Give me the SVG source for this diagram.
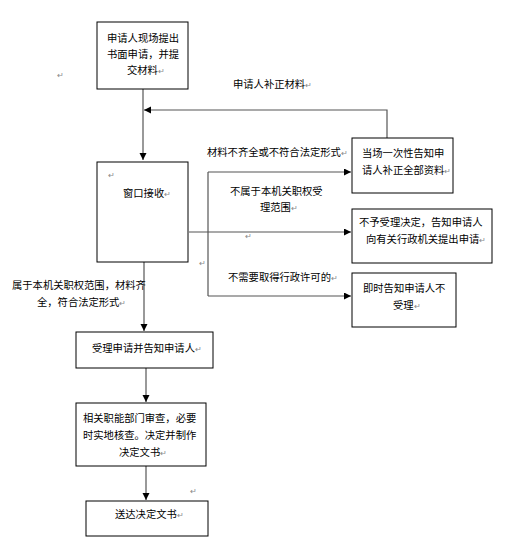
<svg xmlns="http://www.w3.org/2000/svg" width="509" height="555" viewBox="0 0 509 555">
<style>
  .box{fill:#fff;stroke:#000;stroke-width:1}
  .ln{fill:none;stroke:#555;stroke-width:1.2}
  text{font-family:"Noto Sans CJK SC","Noto Sans CJK JP",sans-serif;font-size:10.3px;fill:#000}
  .pm{fill:#888;font-size:8px}
</style>
<defs>
  <marker id="ah" markerUnits="userSpaceOnUse" markerWidth="8" markerHeight="8" refX="7" refY="3.5" orient="auto">
    <path d="M0,0 L7,3.5 L0,7 z" fill="#000"/>
  </marker>
</defs>
<rect width="509" height="555" fill="#fff"/>
<g id="connectors">
  <path class="ln" d="M143,89 V160" marker-end="url(#ah)"/>
  <path class="ln" d="M387,138 V110 H144" marker-end="url(#ah)"/>
  <path class="ln" d="M189,232 H351" marker-end="url(#ah)"/>
  <path class="ln" d="M208,172 V296"/>
  <path class="ln" d="M208,172 H351" marker-end="url(#ah)"/>
  <path class="ln" d="M208,296 H351" marker-end="url(#ah)"/>
  <path class="ln" d="M144,262 V331" marker-end="url(#ah)"/>
  <path class="ln" d="M146,368 V402" marker-end="url(#ah)"/>
  <path class="ln" d="M146,466 V500" marker-end="url(#ah)"/>
</g>
<g id="n1">
  <rect class="box" x="97" y="22" width="91" height="67"/>
  <text x="107" y="42">申请人现场提出</text>
  <text x="107" y="58">书面申请，并提</text>
  <text x="127" y="74">交材料<tspan class="pm">↵</tspan></text>
</g>
<g id="n2">
  <rect class="box" x="97" y="162" width="91" height="100"/>
  <text x="108" y="178" class="pm">↵</text>
  <text x="123" y="197">窗口接收<tspan class="pm">↵</tspan></text>
</g>
<g id="n3">
  <rect class="box" x="352" y="138" width="101" height="55"/>
  <text x="362" y="157">当场一次性告知申</text>
  <text x="362" y="174">请人补正全部资料<tspan class="pm">↵</tspan></text>
</g>
<g id="n4">
  <rect class="box" x="352" y="209" width="140" height="54"/>
  <text x="359" y="226">不予受理决定，告知申请人</text>
  <text x="366" y="243">向有关行政机关提出申请<tspan class="pm">↵</tspan></text>
</g>
<g id="n5">
  <rect class="box" x="352" y="273" width="104" height="54"/>
  <text x="363" y="292">即时告知申请人不</text>
  <text x="393" y="309">受理<tspan class="pm">↵</tspan></text>
</g>
<g id="n6">
  <rect class="box" x="76" y="332" width="137" height="36"/>
  <text x="92" y="352">受理申请并告知申请人<tspan class="pm">↵</tspan></text>
</g>
<g id="n7">
  <rect class="box" x="76" y="403" width="130" height="63"/>
  <text x="83" y="422">相关职能部门审查，必要</text>
  <text x="83" y="439">时实地核查。决定并制作</text>
  <text x="119" y="456">决定文书<tspan class="pm">↵</tspan></text>
</g>
<g id="n8">
  <rect class="box" x="86" y="501" width="122" height="35"/>
  <text x="115" y="518">送达决定文书<tspan class="pm">↵</tspan></text>
</g>
<g id="labels">
  <text x="233" y="88">申请人补正材料<tspan class="pm">↵</tspan></text>
  <text x="207" y="156">材料不齐全或不符合法定形式<tspan class="pm">↵</tspan></text>
  <text x="230" y="195">不属于本机关职权受</text>
  <text x="260" y="211">理范围<tspan class="pm">↵</tspan></text>
  <text x="228" y="281">不需要取得行政许可的<tspan class="pm">↵</tspan></text>
  <text x="12" y="289">属于本机关职权范围，材料齐</text>
  <text x="37" y="306">全，符合法定形式<tspan class="pm">↵</tspan></text>
  <text x="57" y="78" class="pm">↵</text>
  <text x="245" y="239" class="pm">↵</text>
  <text x="199" y="266" class="pm">↵</text>
  <text x="190" y="494" class="pm">↵</text>
</g>
</svg>
